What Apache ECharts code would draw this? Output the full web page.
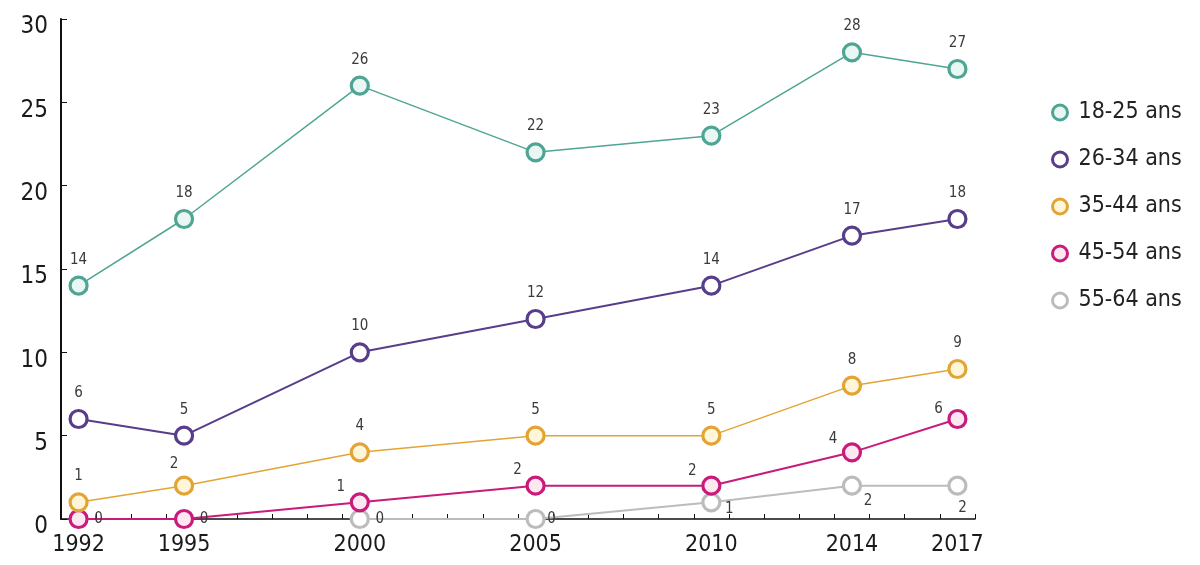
<!DOCTYPE html>
<html>
<head>
<meta charset="utf-8">
<script src="https://cdn.jsdelivr.net/npm/echarts@6/dist/echarts.min.js"></script>
<style>html,body{margin:0;padding:0;background:#fff}#c{width:1200px;height:565px}</style>
</head>
<body>
<div id="c"></div>
<script>
const years = ['1992','1993','1994','1995','1996','1997','1998','1999','2000','2001','2002','2003','2004','2005','2006','2007','2008','2009','2010','2011','2012','2013','2014','2015','2016','2017'];
const surveyYears = ['1992','1995','2000','2005','2010','2014','2017'];
const seriesNames = ['18-25 ans','26-34 ans','35-44 ans','45-54 ans','55-64 ans'];
const v18_25 = [14, 18, 26, 22, 23, 28, 27];
const v26_34 = [6, 5, 10, 12, 14, 17, 18];
const v35_44 = [1, 2, 4, 5, 5, 8, 9];
const v45_54 = [0, 0, 1, 2, 2, 4, 6];
const v55_64 = [null, null, 0, 0, 1, 2, 2];
const yTicks = [0, 5, 10, 15, 20, 25, 30];

const colors = ['#4fa594', '#573d8a', '#e2a535', '#c81b7b', '#bcbcbc'];
const fills = ['#e8f7f3', '#ffffff', '#fff6da', '#fde8f2', '#ffffff'];
const lineWidths = [1.5, 2, 1.5, 2, 2];
const allValues = [v18_25, v26_34, v35_44, v45_54, v55_64];

// label offsets (relative to point centre) per series / point
const TOP = [0, -26];
const labelOffsets = [
  [TOP, TOP, TOP, TOP, TOP, TOP, TOP],
  [TOP, TOP, TOP, TOP, TOP, TOP, TOP],
  [TOP, [-10, -22], TOP, TOP, TOP, TOP, TOP],
  [[20, 0], [20, 0], [-19, -15], [-18, -16], [-19, -15], [-19, -13], [-19, -10]],
  [null, null, [20, 0], [16, 0], [18, 7], [16, 15], [5, 22]]
];

const series = seriesNames.map((name, s) => ({
  name: name,
  type: 'line',
  symbol: 'circle',
  symbolSize: 17,
  connectNulls: true,
  z: 10 - s,
  lineStyle: { color: colors[s], width: lineWidths[s] },
  itemStyle: { color: fills[s], borderColor: colors[s], borderWidth: 3.2 },
  data: surveyYears.map((y, i) => {
    const v = allValues[s][i];
    if (v === null) return [y, null];
    const off = labelOffsets[s][i] || TOP;
    return {
      value: [y, v],
      label: { show: true, position: 'inside', offset: off, formatter: String(v),
               color: '#3a3a3a', fontSize: 15, fontFamily: 'DejaVu Sans Condensed' }
    };
  })
}));

const chart = echarts.init(document.getElementById('c'), null, { renderer: 'canvas' });
chart.setOption({
  animation: false,
  backgroundColor: '#ffffff',
  grid: { left: 61, right: 225, top: 19, bottom: 46, containLabel: false },
  legend: {
    orient: 'vertical',
    left: 1046,
    top: 96,
    itemWidth: 15,
    itemHeight: 15,
    itemGap: 24,
    icon: 'circle',
    data: seriesNames.map((n, s) => ({
      name: n,
      itemStyle: { color: fills[s], borderColor: colors[s], borderWidth: 3 }
    })),
    textStyle: { fontSize: 23, color: '#222', fontFamily: 'DejaVu Sans Condensed', padding: [0, 0, 0, 6] }
  },
  xAxis: {
    type: 'category',
    data: years,
    boundaryGap: true,
    axisLine: { show: true, lineStyle: { color: '#111', width: 1.5 } },
    axisTick: { show: true, inside: true, length: 5, interval: 0, lineStyle: { color: '#111', width: 1 } },
    axisLabel: {
      interval: 0,
      formatter: (val) => surveyYears.indexOf(val) >= 0 ? val : '',
      color: '#1a1a1a', fontSize: 23, fontFamily: 'DejaVu Sans Condensed', margin: 15
    },
    splitLine: { show: false }
  },
  yAxis: {
    type: 'value',
    min: yTicks[0],
    max: yTicks[yTicks.length - 1],
    interval: 5,
    axisLine: { show: true, lineStyle: { color: '#111', width: 2 } },
    axisTick: { show: true, inside: true, length: 6, lineStyle: { color: '#111', width: 1 } },
    axisLabel: { color: '#1a1a1a', fontSize: 24, fontFamily: 'DejaVu Sans Condensed', margin: 13,
                 verticalAlign: 'top', lineHeight: 16 },
    splitLine: { show: false }
  },
  series: series
});
</script>
</body>
</html>
